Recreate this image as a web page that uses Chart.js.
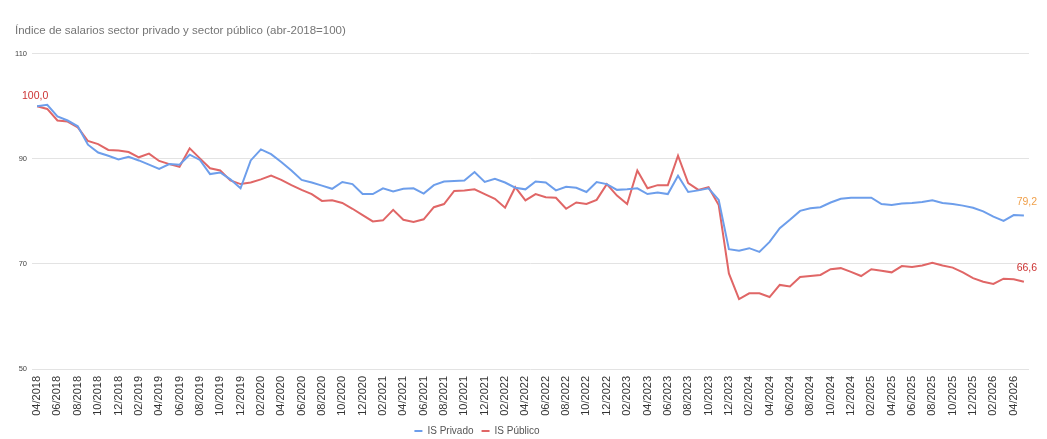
<!DOCTYPE html>
<html>
<head>
<meta charset="utf-8">
<script src="https://cdn.jsdelivr.net/npm/chart.js@4.4.1/dist/chart.umd.min.js"></script>
<style>
  html, body { margin: 0; padding: 0; background: #ffffff; }
  #wrap { width: 1047px; height: 439px; position: relative; }
</style>
</head>
<body>
<div id="wrap"><canvas id="c" width="1047" height="439"></canvas></div>
<script>
const chartTitle = 'Índice de salarios sector privado y sector público (abr-2018=100)';

const months = [
  '04/2018','05/2018','06/2018','07/2018','08/2018','09/2018','10/2018','11/2018','12/2018',
  '01/2019','02/2019','03/2019','04/2019','05/2019','06/2019','07/2019','08/2019','09/2019','10/2019','11/2019','12/2019',
  '01/2020','02/2020','03/2020','04/2020','05/2020','06/2020','07/2020','08/2020','09/2020','10/2020','11/2020','12/2020',
  '01/2021','02/2021','03/2021','04/2021','05/2021','06/2021','07/2021','08/2021','09/2021','10/2021','11/2021','12/2021',
  '01/2022','02/2022','03/2022','04/2022','05/2022','06/2022','07/2022','08/2022','09/2022','10/2022','11/2022','12/2022',
  '01/2023','02/2023','03/2023','04/2023','05/2023','06/2023','07/2023','08/2023','09/2023','10/2023','11/2023','12/2023',
  '01/2024','02/2024','03/2024','04/2024','05/2024','06/2024','07/2024','08/2024','09/2024','10/2024','11/2024','12/2024',
  '01/2025','02/2025','03/2025','04/2025','05/2025','06/2025','07/2025','08/2025','09/2025','10/2025','11/2025','12/2025',
  '01/2026','02/2026','03/2026','04/2026','05/2026'
];

const isPrivado = [
  100.0, 100.3, 98.1, 97.3, 96.2, 92.7, 91.2, 90.6, 89.9, 90.4,
  89.7, 88.9, 88.1, 89.0, 88.9, 90.8, 89.8, 87.1, 87.4, 86.1,
  84.4, 89.7, 91.8, 90.9, 89.4, 87.8, 86.0, 85.5, 84.9, 84.3,
  85.6, 85.2, 83.3, 83.3, 84.4, 83.8, 84.3, 84.4, 83.4, 85.0,
  85.7, 85.8, 85.9, 87.5, 85.6, 86.2, 85.5, 84.5, 84.2, 85.7,
  85.5, 84.0, 84.7, 84.5, 83.7, 85.6, 85.2, 84.1, 84.2, 84.4,
  83.3, 83.6, 83.3, 86.8, 83.7, 84.0, 84.4, 82.2, 72.8, 72.5,
  73.0, 72.3, 74.2, 76.8, 78.4, 80.1, 80.6, 80.8, 81.7, 82.4,
  82.6, 82.6, 82.6, 81.4, 81.2, 81.5, 81.6, 81.8, 82.1, 81.6,
  81.4, 81.1, 80.7, 80.0, 79.0, 78.2, 79.3, 79.2
];

const isPublico = [
  100.0, 99.5, 97.3, 97.1, 96.0, 93.4, 92.8, 91.7, 91.6, 91.3,
  90.3, 91.0, 89.6, 89.0, 88.5, 92.0, 90.1, 88.2, 87.8, 85.9,
  85.2, 85.5, 86.1, 86.8, 86.0, 85.0, 84.1, 83.3, 82.0, 82.1,
  81.6, 80.5, 79.3, 78.1, 78.3, 80.3, 78.4, 78.0, 78.5, 80.8,
  81.4, 83.9, 84.0, 84.2, 83.3, 82.4, 80.7, 84.6, 82.1, 83.3,
  82.7, 82.6, 80.5, 81.7, 81.4, 82.2, 85.2, 83.0, 81.4, 87.8,
  84.4, 85.0, 85.0, 90.6, 85.4, 84.1, 84.6, 81.2, 68.2, 63.3,
  64.4, 64.4, 63.7, 66.0, 65.7, 67.5, 67.7, 67.9, 69.0, 69.2,
  68.5, 67.7, 69.0, 68.7, 68.4, 69.6, 69.4, 69.7, 70.2, 69.7,
  69.3, 68.4, 67.3, 66.6, 66.2, 67.2, 67.1, 66.6
];

const yTicks = [50, 70, 90, 110];

const BLUE = '#6d9eeb';
const RED = '#e06666';
const FONT = '"Liberation Sans", Arial, sans-serif';

function fmt(v) { return v.toFixed(1).replace('.', ','); }

const labelPlugin = {
  id: 'pointLabels',
  afterLayout(chart) {
    // legend sits slightly left of centre and close to the bottom edge in the reference
    const lg = chart.legend;
    if (lg) { lg.left -= 45; lg.right -= 45; lg.top += 1; lg.bottom += 1; }
  },
  afterDatasetsDraw(chart) {
    const ctx = chart.ctx;
    ctx.save();
    ctx.font = '10.5px ' + FONT;
    ctx.textAlign = 'center';
    ctx.textBaseline = 'bottom';
    const m0 = chart.getDatasetMeta(0).data;
    const m1 = chart.getDatasetMeta(1).data;
    const p0 = m1[0];
    ctx.fillStyle = '#cc3333';
    ctx.fillText(fmt(isPublico[0]), p0.x - 2, p0.y - 5);
    const lb = m0[m0.length - 1];
    ctx.fillStyle = '#f0a04b';
    ctx.fillText(fmt(isPrivado[isPrivado.length - 1]), lb.x + 3, lb.y - 8);
    const lr = m1[m1.length - 1];
    ctx.fillStyle = '#cc3333';
    ctx.fillText(fmt(isPublico[isPublico.length - 1]), lr.x + 3, lr.y - 8);
    ctx.restore();
  }
};

new Chart(document.getElementById('c'), {
  type: 'line',
  data: {
    labels: months,
    datasets: [
      { label: 'IS Privado', data: isPrivado, borderColor: BLUE, backgroundColor: BLUE,
        borderWidth: 2, pointRadius: 0, tension: 0 },
      { label: 'IS Público', data: isPublico, borderColor: RED, backgroundColor: RED,
        borderWidth: 2, pointRadius: 0, tension: 0 }
    ]
  },
  options: {
    responsive: false,
    animation: false,
    layout: { padding: { left: 15, right: 18, top: 0, bottom: -6 } },
    plugins: {
      title: {
        display: true, text: chartTitle, align: 'start', color: '#757575',
        font: { family: FONT, size: 11.5, weight: 'normal' },
        padding: { top: 24, bottom: 16 }
      },
      legend: {
        position: 'bottom',
        labels: {
          usePointStyle: true, pointStyle: 'line', pointStyleWidth: 8, boxWidth: 8, boxHeight: 8,
          color: '#555', padding: 8,
          font: { family: FONT, size: 10 }
        }
      },
      tooltip: { enabled: false }
    },
    scales: {
      x: {
        type: 'category',
        offset: true,
        grid: { display: false, drawTicks: false },
        border: { display: false },
        ticks: {
          autoSkip: false, maxRotation: 90, minRotation: 90, padding: 7,
          color: '#333',
          font: { family: FONT, size: 11 },
          callback: function(v, i) { return i % 2 === 0 ? months[i] : null; }
        },
        afterFit(scale) { scale.height = 48; }
      },
      y: {
        min: 50, max: 110,
        afterBuildTicks(scale) { scale.ticks = yTicks.map(v => ({ value: v })); },
        grid: { color: '#e3e3e3', lineWidth: 1, drawTicks: false },
        border: { display: false },
        ticks: {
          padding: 5, color: '#444',
          font: { family: FONT, size: 7.5 }
        },
        afterFit(scale) { scale.width = 17; }
      }
    }
  },
  plugins: [labelPlugin]
});
</script>
</body>
</html>
